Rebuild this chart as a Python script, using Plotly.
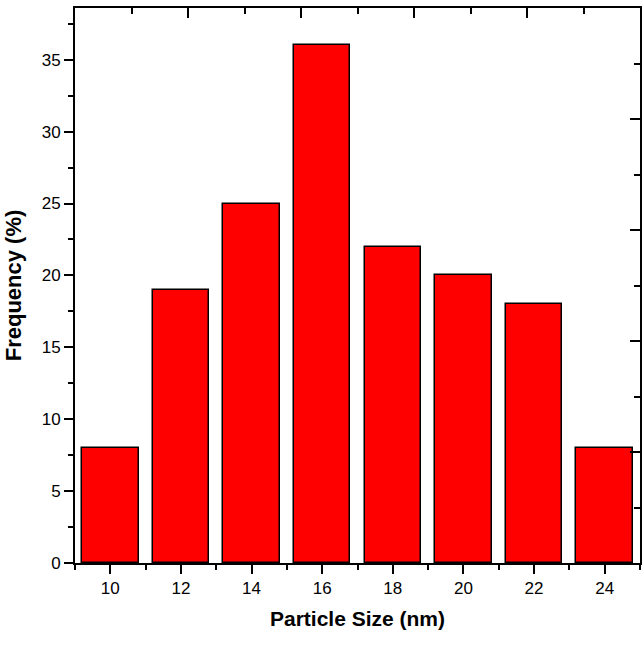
import plotly.graph_objects as go

sizes = [10, 12, 14, 16, 18, 20, 22, 24]
freq = [8, 19, 25, 36, 22, 20, 18, 8]

x_title = "Particle Size (nm)"
y_title = "Frequency (%)"

fig = go.Figure()
fig.add_trace(go.Bar(
    x=sizes, y=freq, width=1.6,
    marker=dict(color="#FF0000", line=dict(color="black", width=1.5)),
    showlegend=False,
))
# empty trace so the frame axes (top/right) get drawn
fig.add_trace(go.Scatter(x=[None], y=[None], mode="markers", xaxis="x2", yaxis="y2",
                         showlegend=False, hoverinfo="skip"))

tickfont = dict(family="Liberation Sans, Arial, sans-serif", size=17, color="black")
titlefont = dict(family="Liberation Sans, Arial, sans-serif", size=21, color="black", weight="bold")

frame = dict(
    type="linear", range=[0, 10], tickmode="linear", dtick=2, tick0=0,
    showline=True, linecolor="black", linewidth=2, automargin=False,
    ticks="inside", ticklen=10, tickwidth=2, tickcolor="black",
    minor=dict(dtick=1, tick0=0, ticks="inside", ticklen=6, tickwidth=2, tickcolor="black"),
    showticklabels=False, showgrid=False, zeroline=False, fixedrange=True,
)

fig.update_layout(
    width=644, height=645,
    margin=dict(l=75, r=4, t=8, b=82),
    paper_bgcolor="white", plot_bgcolor="white",
    bargap=0,
    xaxis=dict(
        range=[9, 25], tickmode="array", tickvals=sizes, ticktext=[str(s) for s in sizes],
        showline=True, mirror=True, linecolor="black", linewidth=2, automargin=False,
        ticks="outside", ticklen=9, tickwidth=2, tickcolor="black",
        minor=dict(dtick=1, tick0=9, ticks="outside", ticklen=5, tickwidth=2, tickcolor="black"),
        showgrid=False, zeroline=False, tickfont=tickfont,
        title=dict(text=x_title, font=titlefont, standoff=14),
    ),
    yaxis=dict(
        range=[0, 38.6], dtick=5, tick0=0,
        showline=True, mirror=True, linecolor="black", linewidth=2, automargin=False,
        ticks="outside", ticklen=9, tickwidth=2, tickcolor="black",
        minor=dict(dtick=2.5, ticks="outside", ticklen=5, tickwidth=2, tickcolor="black"),
        showgrid=False, zeroline=False, tickfont=tickfont,
        title=dict(text=y_title, font=dict(family="Liberation Sans, Arial, sans-serif", size=22, color="black", weight="bold"), standoff=14),
    ),
    xaxis2=dict(overlaying="x", side="top", anchor="y", **frame),
    yaxis2=dict(overlaying="y", side="right", anchor="x", **frame),
)

fig.write_html("out.html", config={"displayModeBar": False},
               post_script="document.body.style.margin='0px';document.body.style.overflow='hidden';")
